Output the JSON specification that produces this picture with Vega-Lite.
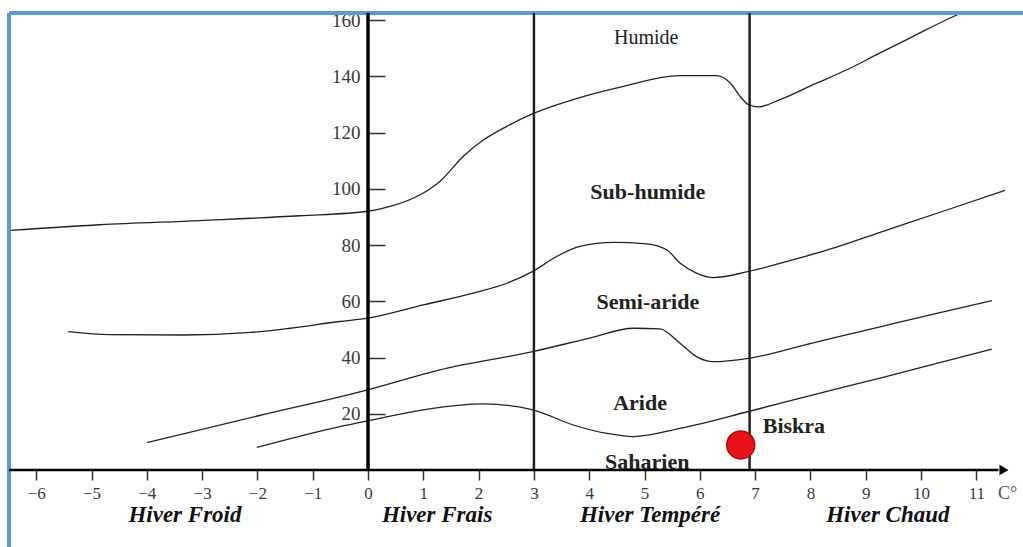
{
  "$schema": "https://vega.github.io/schema/vega-lite/v6.json",
  "width": 1014,
  "height": 457,
  "autosize": {"type": "none"},
  "padding": {"left": 9, "top": 13, "right": 0, "bottom": 77},
  "background": "white",
  "config": {"view": {"stroke": null}},
  "data": {"values": [{"item": "frame"}]},
  "datasets": {
    "curves": [
      {"curve": "c1", "x": -6.47, "y": 85.2},
      {"curve": "c1", "x": -4.85, "y": 87.2},
      {"curve": "c1", "x": -3.04, "y": 88.7},
      {"curve": "c1", "x": -1.23, "y": 90.4},
      {"curve": "c1", "x": 0, "y": 92},
      {"curve": "c1", "x": 0.4, "y": 93.7},
      {"curve": "c1", "x": 1.0, "y": 98.5},
      {"curve": "c1", "x": 1.3, "y": 102.6},
      {"curve": "c1", "x": 1.72, "y": 111.5},
      {"curve": "c1", "x": 2.09, "y": 117.4},
      {"curve": "c1", "x": 2.51, "y": 122.2},
      {"curve": "c1", "x": 2.98, "y": 126.7},
      {"curve": "c1", "x": 3.71, "y": 131.7},
      {"curve": "c1", "x": 4.62, "y": 136.4},
      {"curve": "c1", "x": 5.64, "y": 140.2},
      {"curve": "c1", "x": 6.3, "y": 140.2},
      {"curve": "c1", "x": 6.55, "y": 137.6},
      {"curve": "c1", "x": 6.73, "y": 132.8},
      {"curve": "c1", "x": 6.88, "y": 129.9},
      {"curve": "c1", "x": 7.06, "y": 129.1},
      {"curve": "c1", "x": 7.45, "y": 131.7},
      {"curve": "c1", "x": 8.05, "y": 137},
      {"curve": "c1", "x": 8.66, "y": 142.3},
      {"curve": "c1", "x": 9.26, "y": 148.3},
      {"curve": "c1", "x": 9.86, "y": 154.2},
      {"curve": "c1", "x": 10.46, "y": 160.1},
      {"curve": "c1", "x": 10.72, "y": 162.4},
      {"curve": "c2", "x": -5.42, "y": 49.2},
      {"curve": "c2", "x": -4.67, "y": 48.1},
      {"curve": "c2", "x": -3.34, "y": 48},
      {"curve": "c2", "x": -2.13, "y": 48.9},
      {"curve": "c2", "x": -1.41, "y": 50.4},
      {"curve": "c2", "x": -0.51, "y": 52.8},
      {"curve": "c2", "x": 0, "y": 54},
      {"curve": "c2", "x": 1.0, "y": 58.7},
      {"curve": "c2", "x": 1.9, "y": 62.9},
      {"curve": "c2", "x": 2.51, "y": 66.4},
      {"curve": "c2", "x": 2.98, "y": 70.6},
      {"curve": "c2", "x": 3.41, "y": 75.9},
      {"curve": "c2", "x": 3.83, "y": 79.5},
      {"curve": "c2", "x": 4.44, "y": 80.9},
      {"curve": "c2", "x": 5.04, "y": 80.4},
      {"curve": "c2", "x": 5.4, "y": 78.3},
      {"curve": "c2", "x": 5.64, "y": 73.6},
      {"curve": "c2", "x": 5.94, "y": 70},
      {"curve": "c2", "x": 6.24, "y": 68.4},
      {"curve": "c2", "x": 6.88, "y": 70.6},
      {"curve": "c2", "x": 7.45, "y": 73.5},
      {"curve": "c2", "x": 8.35, "y": 78.5},
      {"curve": "c2", "x": 9.26, "y": 84.5},
      {"curve": "c2", "x": 10.4, "y": 92},
      {"curve": "c2", "x": 11.52, "y": 99.4},
      {"curve": "c3", "x": -4.0, "y": 9.7},
      {"curve": "c3", "x": -2.0, "y": 19.2},
      {"curve": "c3", "x": 0, "y": 28.5},
      {"curve": "c3", "x": 1.3, "y": 35.6},
      {"curve": "c3", "x": 2.98, "y": 42.1},
      {"curve": "c3", "x": 4.01, "y": 46.9},
      {"curve": "c3", "x": 4.8, "y": 50.4},
      {"curve": "c3", "x": 5.28, "y": 50.2},
      {"curve": "c3", "x": 5.64, "y": 45.1},
      {"curve": "c3", "x": 5.94, "y": 40.3},
      {"curve": "c3", "x": 6.24, "y": 38.5},
      {"curve": "c3", "x": 6.88, "y": 39.7},
      {"curve": "c3", "x": 8.05, "y": 45.2},
      {"curve": "c3", "x": 9.26, "y": 50.9},
      {"curve": "c3", "x": 10.46, "y": 56.5},
      {"curve": "c3", "x": 11.28, "y": 60.2},
      {"curve": "c4", "x": -2.01, "y": 8.0},
      {"curve": "c4", "x": -0.51, "y": 15.4},
      {"curve": "c4", "x": 0, "y": 17.5},
      {"curve": "c4", "x": 1.0, "y": 21.4},
      {"curve": "c4", "x": 2.09, "y": 23.5},
      {"curve": "c4", "x": 2.98, "y": 21.4},
      {"curve": "c4", "x": 3.71, "y": 16},
      {"curve": "c4", "x": 4.32, "y": 13},
      {"curve": "c4", "x": 4.8, "y": 11.9},
      {"curve": "c4", "x": 5.64, "y": 14.8},
      {"curve": "c4", "x": 6.88, "y": 20.8},
      {"curve": "c4", "x": 8.05, "y": 26.7},
      {"curve": "c4", "x": 9.26, "y": 32.7},
      {"curve": "c4", "x": 10.46, "y": 38.8},
      {"curve": "c4", "x": 11.28, "y": 43}
    ],
    "zonesNormal": [
      {"label": "Humide", "x": 5.03, "y": 153.5}
    ],
    "zonesBold": [
      {"label": "Sub-humide", "x": 5.06, "y": 98.9},
      {"label": "Semi-aride", "x": 5.06, "y": 59.8},
      {"label": "Aride", "x": 4.92, "y": 23.7},
      {"label": "Saharien", "x": 5.05, "y": 3.0}
    ],
    "station": [
      {"label": "Biskra", "x": 6.74, "y": 8.9}
    ],
    "winters": [
      {"label": "Hiver Froid", "x": -3.31},
      {"label": "Hiver Frais", "x": 1.25},
      {"label": "Hiver Tempéré", "x": 5.1},
      {"label": "Hiver Chaud", "x": 9.4}
    ],
    "classLines": [
      {"x": 3},
      {"x": 6.9}
    ]
  },
  "layer": [
    {
      "data": {"name": "curves"},
      "mark": {"type": "line", "interpolate": "monotone", "color": "#222222", "strokeWidth": 1.3},
      "encoding": {
        "x": {
          "field": "x", "type": "quantitative", "title": null,
          "scale": {"domain": [-6.492, 11.844], "nice": false, "zero": false},
          "axis": {
            "orient": "bottom", "title": null, "values": [-6, -5, -4, -3, -2, -1, 0, 1, 2, 3, 4, 5, 6, 7, 8, 9, 10, 11],
            "format": "d",
            "domain": false, "grid": false, "ticks": true, "tickSize": 10, "tickColor": "#333333", "tickWidth": 1.5,
            "labelFont": "Liberation Serif", "labelFontSize": 17, "labelColor": "#3a3a3a", "labelPadding": 5,
            "labelOverlap": false, "labelFlush": false
          }
        },
        "y": {
          "field": "y", "type": "quantitative", "title": null,
          "scale": {"domain": [0, 162.49], "nice": false, "zero": false},
          "axis": {
            "orient": "left", "title": null, "values": [20, 40, 60, 80, 100, 120, 140, 160], "offset": -359,
            "format": "d",
            "domain": false, "grid": false, "ticks": true, "tickSize": -17, "tickColor": "#333333", "tickWidth": 1.5,
            "labelFont": "Liberation Serif", "labelFontSize": 19, "labelColor": "#3a3a3a", "labelPadding": 25,
            "labelOverlap": false, "labelFlush": false, "labelBaseline": "middle"
          }
        },
        "detail": {"field": "curve", "type": "nominal"}
      }
    },
    {
      "mark": {"type": "rule", "color": "#5B9BD5", "strokeWidth": 4},
      "encoding": {
        "x": {"datum": -6.492, "type": "quantitative", "scale": {"domain": [-6.492, 11.844], "nice": false, "zero": false}},
        "y": {"datum": 162.49, "type": "quantitative", "scale": {"domain": [0, 162.49], "nice": false, "zero": false}},
        "y2": {"datum": -27.5}
      }
    },
    {
      "mark": {"type": "rule", "color": "#5B9BD5", "strokeWidth": 4},
      "encoding": {
        "x": {"datum": -6.492, "type": "quantitative", "scale": {"domain": [-6.492, 11.844], "nice": false, "zero": false}},
        "x2": {"datum": 11.844},
        "y": {"datum": 162.49, "type": "quantitative", "scale": {"domain": [0, 162.49], "nice": false, "zero": false}}
      }
    },
    {
      "data": {"name": "classLines"},
      "mark": {"type": "rule", "color": "#222222", "strokeWidth": 2.5},
      "encoding": {
        "x": {"field": "x", "type": "quantitative", "title": null, "scale": {"domain": [-6.492, 11.844], "nice": false, "zero": false}}
      }
    },
    {
      "mark": {"type": "rule", "color": "#000000", "strokeWidth": 3.5},
      "encoding": {
        "x": {"datum": 0, "type": "quantitative", "scale": {"domain": [-6.492, 11.844], "nice": false, "zero": false}}
      }
    },
    {
      "mark": {"type": "rule", "color": "#000000", "strokeWidth": 2.5},
      "encoding": {
        "x": {"datum": -6.492, "type": "quantitative", "scale": {"domain": [-6.492, 11.844], "nice": false, "zero": false}},
        "x2": {"datum": 11.4},
        "y": {"datum": 0, "type": "quantitative", "scale": {"domain": [0, 162.49], "nice": false, "zero": false}}
      }
    },
    {
      "mark": {"type": "point", "shape": "triangle-right", "filled": true, "color": "#000000", "size": 110, "opacity": 1},
      "encoding": {
        "x": {"datum": 11.5, "type": "quantitative", "scale": {"domain": [-6.492, 11.844], "nice": false, "zero": false}},
        "y": {"datum": 0, "type": "quantitative", "scale": {"domain": [0, 162.49], "nice": false, "zero": false}}
      }
    },
    {
      "data": {"name": "zonesNormal"},
      "mark": {"type": "text", "font": "Liberation Serif", "fontSize": 20, "color": "#222222", "align": "center", "baseline": "middle"},
      "encoding": {
        "x": {"field": "x", "type": "quantitative", "title": null, "scale": {"domain": [-6.492, 11.844], "nice": false, "zero": false}},
        "y": {"field": "y", "type": "quantitative", "title": null, "scale": {"domain": [0, 162.49], "nice": false, "zero": false}},
        "text": {"field": "label"}
      }
    },
    {
      "data": {"name": "zonesBold"},
      "mark": {"type": "text", "font": "Liberation Serif", "fontSize": 22, "fontWeight": "bold", "color": "#222222", "align": "center", "baseline": "middle"},
      "encoding": {
        "x": {"field": "x", "type": "quantitative", "title": null, "scale": {"domain": [-6.492, 11.844], "nice": false, "zero": false}},
        "y": {"field": "y", "type": "quantitative", "title": null, "scale": {"domain": [0, 162.49], "nice": false, "zero": false}},
        "text": {"field": "label"}
      }
    },
    {
      "data": {"name": "winters"},
      "mark": {"type": "text", "font": "Liberation Serif", "fontSize": 23, "fontWeight": "bold", "fontStyle": "italic", "color": "#111111", "align": "center", "baseline": "middle", "dy": 45},
      "encoding": {
        "x": {"field": "x", "type": "quantitative", "title": null, "scale": {"domain": [-6.492, 11.844], "nice": false, "zero": false}},
        "y": {"datum": 0, "type": "quantitative", "scale": {"domain": [0, 162.49], "nice": false, "zero": false}},
        "text": {"field": "label"}
      }
    },
    {
      "mark": {"type": "text", "font": "Liberation Serif", "fontSize": 18, "color": "#555555", "align": "left", "baseline": "middle", "dy": 24, "text": "C°"},
      "encoding": {
        "x": {"datum": 11.39, "type": "quantitative", "scale": {"domain": [-6.492, 11.844], "nice": false, "zero": false}},
        "y": {"datum": 0, "type": "quantitative", "scale": {"domain": [0, 162.49], "nice": false, "zero": false}}
      }
    },
    {
      "data": {"name": "station"},
      "mark": {"type": "circle", "size": 780, "color": "#E8141B", "opacity": 1, "stroke": "#C00000", "strokeWidth": 1.5},
      "encoding": {
        "x": {"field": "x", "type": "quantitative", "title": null, "scale": {"domain": [-6.492, 11.844], "nice": false, "zero": false}},
        "y": {"field": "y", "type": "quantitative", "title": null, "scale": {"domain": [0, 162.49], "nice": false, "zero": false}}
      }
    },
    {
      "data": {"name": "station"},
      "mark": {"type": "text", "font": "Liberation Serif", "fontSize": 22, "fontWeight": "bold", "color": "#222222", "align": "left", "baseline": "middle", "dx": 22, "dy": -19},
      "encoding": {
        "x": {"field": "x", "type": "quantitative", "title": null, "scale": {"domain": [-6.492, 11.844], "nice": false, "zero": false}},
        "y": {"field": "y", "type": "quantitative", "title": null, "scale": {"domain": [0, 162.49], "nice": false, "zero": false}},
        "text": {"field": "label"}
      }
    }
  ]
}
